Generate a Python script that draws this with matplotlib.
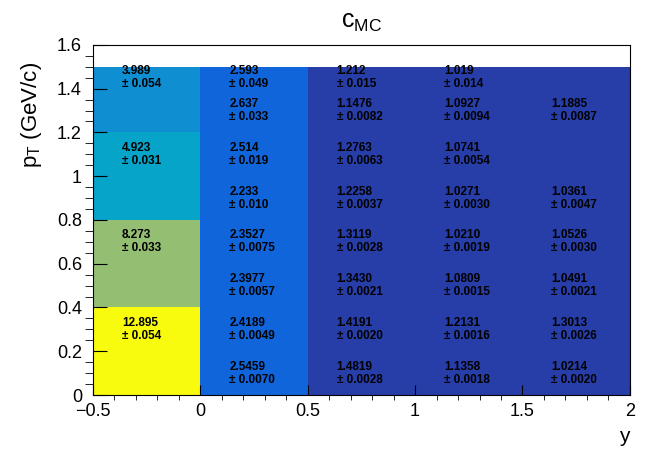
import numpy as np
import matplotlib.pyplot as plt
from matplotlib.colors import LinearSegmentedColormap
from matplotlib.ticker import MultipleLocator

plt.rcParams['font.family'] = 'Liberation Sans'
plt.rcParams['mathtext.fontset'] = 'custom'
plt.rcParams['mathtext.rm'] = 'Liberation Sans'
plt.rcParams['mathtext.it'] = 'Liberation Sans:italic'

# coarse bins (colours)
x_edges = [-0.5, 0.0, 0.5, 2.0]
y_edges = [0.0, 0.4, 0.8, 1.2, 1.5]
colour_vals = np.array([
    [12.895, 2.26, 0.90],
    [8.273, 2.26, 0.90],
    [4.923, 2.26, 0.90],
    [3.989, 2.26, 0.90],
])

# text labels: bin centres
col_x = [-0.25, 0.25, 0.75, 1.25, 1.75]
row_y = [1.45, 1.3, 1.1, 0.9, 0.7, 0.5, 0.3, 0.1]

# values per column, top row first (None = no entry)
val_m05 = ["3.989", None, "4.923", None, "8.273", None, "12.895", None]
err_m05 = ["0.054", None, "0.031", None, "0.033", None, "0.054", None]
val_0 = ["2.593", "2.637", "2.514", "2.233", "2.3527", "2.3977", "2.4189", "2.5459"]
err_0 = ["0.049", "0.033", "0.019", "0.010", "0.0075", "0.0057", "0.0049", "0.0070"]
val_05 = ["1.212", "1.1476", "1.2763", "1.2258", "1.3119", "1.3430", "1.4191", "1.4819"]
err_05 = ["0.015", "0.0082", "0.0063", "0.0037", "0.0028", "0.0021", "0.0020", "0.0028"]
val_1 = ["1.019", "1.0927", "1.0741", "1.0271", "1.0210", "1.0809", "1.2131", "1.1358"]
err_1 = ["0.014", "0.0094", "0.0054", "0.0030", "0.0019", "0.0015", "0.0016", "0.0018"]
val_15 = [None, "1.1885", None, "1.0361", "1.0526", "1.0491", "1.3013", "1.0214"]
err_15 = [None, "0.0087", None, "0.0047", "0.0030", "0.0021", "0.0026", "0.0020"]

all_vals = [val_m05, val_0, val_05, val_1, val_15]
all_errs = [err_m05, err_0, err_05, err_1, err_15]

# ROOT kBird palette
bird = [(0.2082, 0.1664, 0.5293), (0.0592, 0.3599, 0.8684), (0.0780, 0.5041, 0.8385),
        (0.0232, 0.6419, 0.7914), (0.1802, 0.7178, 0.6425), (0.5301, 0.7492, 0.4662),
        (0.8186, 0.7328, 0.3499), (0.9956, 0.7862, 0.1968), (0.9764, 0.9832, 0.0539)]
cmap = LinearSegmentedColormap.from_list('bird', bird)

fig = plt.figure(figsize=(6.46, 4.53), dpi=100)
ax = fig.add_axes([0.144, 0.128, 0.831, 0.773])

ax.pcolormesh(x_edges, y_edges, colour_vals, cmap=cmap, vmin=0.3, vmax=12.6)

for cx, vals, errs in zip(col_x, all_vals, all_errs):
    for ry, v, e in zip(row_y, vals, errs):
        if v is None:
            continue
        ax.text(cx - 0.115, ry, v + "\n\u00b1 " + e, ha='left', va='center',
                fontsize=8.5, fontweight='bold', linespacing=1.12)

ax.set_xlim(-0.5, 2.0)
ax.set_ylim(0, 1.6)
ax.xaxis.set_minor_locator(MultipleLocator(0.1))
ax.yaxis.set_minor_locator(MultipleLocator(0.05))
ax.set_xticks([-0.5, 0, 0.5, 1, 1.5, 2], ['\u22120.5', '0', '0.5', '1', '1.5', '2'])
ax.set_yticks([0, 0.2, 0.4, 0.6, 0.8, 1.0, 1.2, 1.4, 1.6],
              ['0', '0.2', '0.4', '0.6', '0.8', '1', '1.2', '1.4', '1.6'])
ax.tick_params(direction='in', labelsize=13)
ax.tick_params(axis='y', which='major', length=10, pad=8)
ax.tick_params(axis='y', which='minor', length=5.5)
ax.tick_params(axis='x', which='major', length=7, pad=6)
ax.tick_params(axis='x', which='minor', length=3.5)

ax.set_ylabel(r'p$_{\mathrm{T}}$ (GeV/c)', fontsize=16, loc='top')
ax.yaxis.set_label_coords(-0.092, 0.95)
ax.set_xlabel('y', fontsize=15, loc='right', labelpad=5)
ax.set_title(r'$\mathrm{c}_{\mathrm{MC}}$', fontsize=18, pad=12)

fig.savefig('out.png', dpi=100)
